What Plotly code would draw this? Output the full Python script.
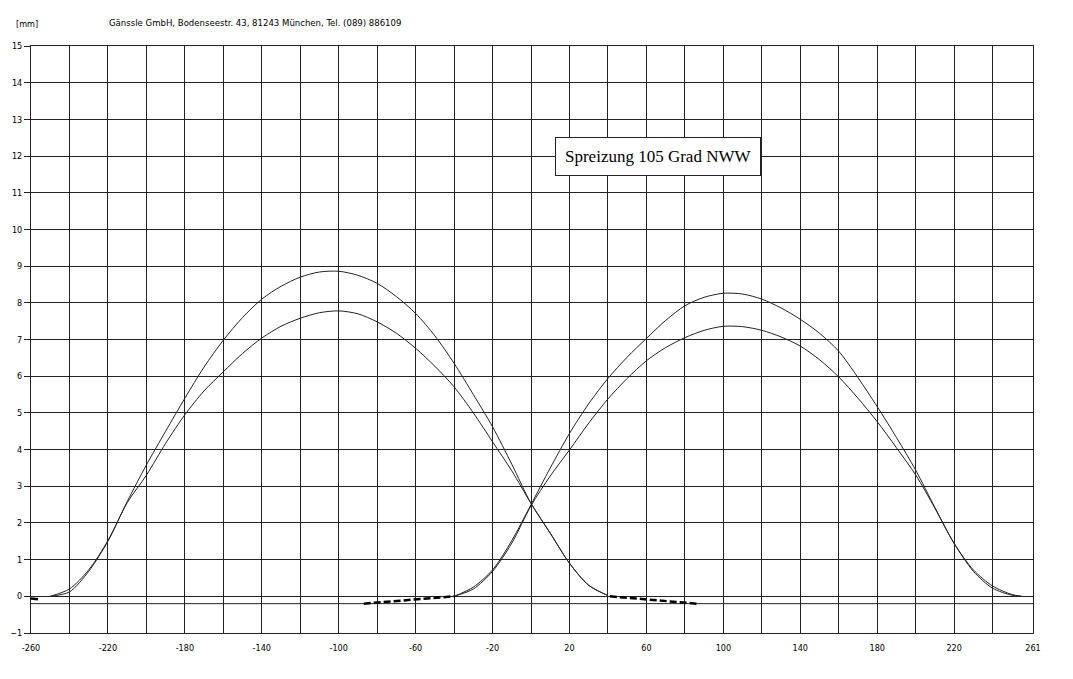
import plotly.graph_objects as go

# crank angle [deg] for the lift curves
x_left = [-250, -240, -230, -220, -210, -200, -190, -180, -170, -160, -150, -140, -130, -120,
          -110, -100, -90, -80, -70, -60, -50, -40, -30, -20, -10, 0, 10, 20, 30, 40]
lift_left_outer = [0.0, 0.2, 0.72, 1.52, 2.58, 3.58, 4.5, 5.4, 6.25, 6.98, 7.6, 8.1, 8.45, 8.7,
                   8.84, 8.86, 8.75, 8.53, 8.17, 7.71, 7.1, 6.35, 5.5, 4.62, 3.6, 2.53, 1.72, 0.9, 0.3, 0.02]
lift_left_inner = [0.0, 0.12, 0.68, 1.5, 2.55, 3.3, 4.17, 4.95, 5.6, 6.12, 6.62, 7.04, 7.36, 7.58,
                   7.73, 7.78, 7.7, 7.48, 7.17, 6.76, 6.27, 5.71, 5.0, 4.21, 3.42, 2.53, 1.72, 0.9, 0.3, 0.02]

x_right = [-40, -30, -20, -10, 0, 10, 20, 30, 40, 50, 60, 70, 80, 90, 100, 110, 120, 130,
           140, 150, 160, 170, 180, 190, 200, 210, 220, 230, 240, 250, 255]
lift_right_outer = [0.0, 0.25, 0.72, 1.52, 2.5, 3.5, 4.44, 5.25, 5.94, 6.52, 7.03, 7.52, 7.92, 8.15,
                    8.26, 8.24, 8.1, 7.86, 7.55, 7.17, 6.68, 5.96, 5.17, 4.33, 3.44, 2.42, 1.44, 0.72,
                    0.28, 0.05, 0.0]
lift_right_inner = [0.0, 0.2, 0.68, 1.45, 2.47, 3.28, 3.99, 4.72, 5.38, 5.94, 6.42, 6.78, 7.05, 7.25,
                    7.36, 7.35, 7.25, 7.07, 6.82, 6.45, 5.98, 5.4, 4.76, 4.05, 3.31, 2.4, 1.44, 0.68,
                    0.22, 0.03, 0.0]

# ramps (thick dashed pieces near zero)
ramp_x = [-260, -256, None, -87, -40, None, 41, 86]
ramp_y = [-0.06, -0.08, None, -0.2, 0.0, None, 0.0, -0.2]

base_x = [-260, 261]
base_y = [-0.2, -0.2]

x_ticks = list(range(-260, 241, 20)) + [261]
x_text = [str(v) if (v + 260) % 40 == 0 else "" for v in x_ticks[:-1]] + ["261"]
y_ticks = list(range(-1, 16))

header = "Gänssle GmbH, Bodenseestr. 43, 81243 München, Tel. (089) 886109"
note = "Spreizung 105 Grad NWW"

small = dict(family="Liberation Sans Narrow, DejaVu Sans Condensed, Arial Narrow", size=9, color="black")

fig = go.Figure()
for xs, ys in [(x_left, lift_left_outer), (x_left, lift_left_inner),
               (x_right, lift_right_outer), (x_right, lift_right_inner)]:
    fig.add_trace(go.Scatter(x=xs, y=ys, mode='lines',
                             line=dict(color='#222', width=1, shape='spline', smoothing=0.8),
                             showlegend=False, hoverinfo='skip'))
fig.add_trace(go.Scatter(x=base_x, y=base_y, mode='lines', line=dict(color='#222', width=1),
                         showlegend=False, hoverinfo='skip'))
fig.add_trace(go.Scatter(x=ramp_x, y=ramp_y, mode='lines', line=dict(color='black', width=2.5, dash='7px,3px'),
                         showlegend=False, hoverinfo='skip', connectgaps=False))

fig.update_xaxes(range=[-260, 261], tickvals=x_ticks, ticktext=x_text, showgrid=True,
                 gridcolor='#222', gridwidth=1, zeroline=False, showline=True, linecolor='#222',
                 linewidth=1, mirror=True, ticks='', tickfont=small, ticklabelstandoff=6,
                 automargin=False)
fig.update_yaxes(range=[-1, 15], tickvals=y_ticks, showgrid=True, gridcolor='#222', gridwidth=1,
                 zeroline=False, showline=True, linecolor='#222', linewidth=1, mirror=True,
                 ticks='outside', ticklen=6, tickcolor='#222', tickfont=small, automargin=False)

fig.add_annotation(x=-0.017, y=1.037, xref='paper', yref='paper', text="[mm]", showarrow=False,
                   xanchor='left', yanchor='middle', font=small)
fig.add_annotation(x=0.076, y=1.04, xref='paper', yref='paper', text=header, showarrow=False,
                   xanchor='left', yanchor='middle', font=dict(small, size=9.5))
fig.add_annotation(x=66, y=12, text=note, showarrow=False, bgcolor='white', bordercolor='#222',
                   borderwidth=1, borderpad=9,
                   font=dict(family="Liberation Serif, Times New Roman, serif", size=17, color='black'))

# page body adds 8px around the figure, so the figure is 16px smaller than the window
fig.update_layout(width=1057, height=663, margin=dict(l=23, r=32, t=38, b=38, autoexpand=False),
                  paper_bgcolor='white', plot_bgcolor='white')
fig.write_html("out.html")
